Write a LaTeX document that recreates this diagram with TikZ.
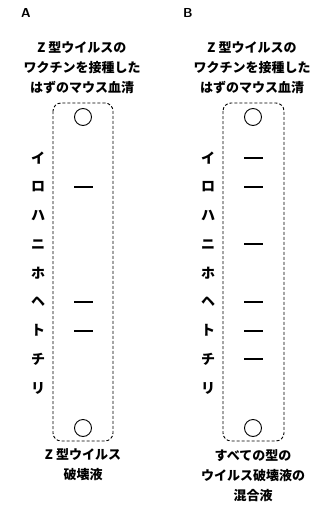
\documentclass[tikz,border=0pt]{standalone}
\usepackage{fontspec}
\newfontfamily\jp{Noto Sans CJK JP}
\usetikzlibrary{positioning,calc}

\begin{document}
\begin{tikzpicture}[
  x=1pt, y=-1pt,
  font=\jp\bfseries\fontsize{13}{20}\selectfont,
  lane/.style={draw, dashed, dash pattern=on 3pt off 2pt, rounded corners=8pt, line width=0.9pt},
  well/.style={draw, circle, minimum size=17pt, inner sep=0pt, line width=0.9pt},
  rowlab/.style={font=\jp\bfseries\fontsize{14}{14}\selectfont, inner sep=0pt},
  band/.style={line width=2pt},
  title/.style={align=center, inner sep=0pt},
  tag/.style={font=\sffamily\bfseries\fontsize{13}{13}\selectfont, inner sep=0pt},
]
  \useasboundingbox (0,0) rectangle (322,506);
  % panel tags
  \node[tag] (tagA) at (26,13) {A};
  \node[tag] (tagB) at (188,13) {B};
  % titles
  \node[title] (topA) at (82,68) {Z 型ウイルスの\\ワクチンを接種した\\はずのマウス血清};
  \node[title] (topB) at (252,68) {Z 型ウイルスの\\ワクチンを接種した\\はずのマウス血清};
  % lanes
  \draw[lane] (53,103) rectangle (113,441);
  \draw[lane] (223,103) rectangle (284,441);
  \node[well] (wA1) at (83,117) {};
  \node[well] (wA2) at (83,428) {};
  \node[well] (wB1) at (253,117) {};
  \node[well] (wB2) at (253,428) {};
  % row labels
  \foreach \c [count=\i] in {イ,ロ,ハ,ニ,ホ,ヘ,ト,チ,リ} {
    \node[rowlab] (la\i) at (38,{158+28.75*(\i-1)}) {\c};
    \node[rowlab] (lb\i) at (208,{158+28.75*(\i-1)}) {\c};
  }
  % bands
  \foreach \i in {2,6,7} {\draw[band] (74,0 |- la\i) -- (93,0 |- la\i);}
  \foreach \i in {1,2,4,6,7,8} {\draw[band] (244,0 |- lb\i) -- (263,0 |- lb\i);}
  % bottom labels
  \node[title] (botA) at (83,465) {Z 型ウイルス\\破壊液};
  \node[title] (botB) at (253,476) {すべての型の\\ウイルス破壊液の\\混合液};
\end{tikzpicture}
\end{document}
